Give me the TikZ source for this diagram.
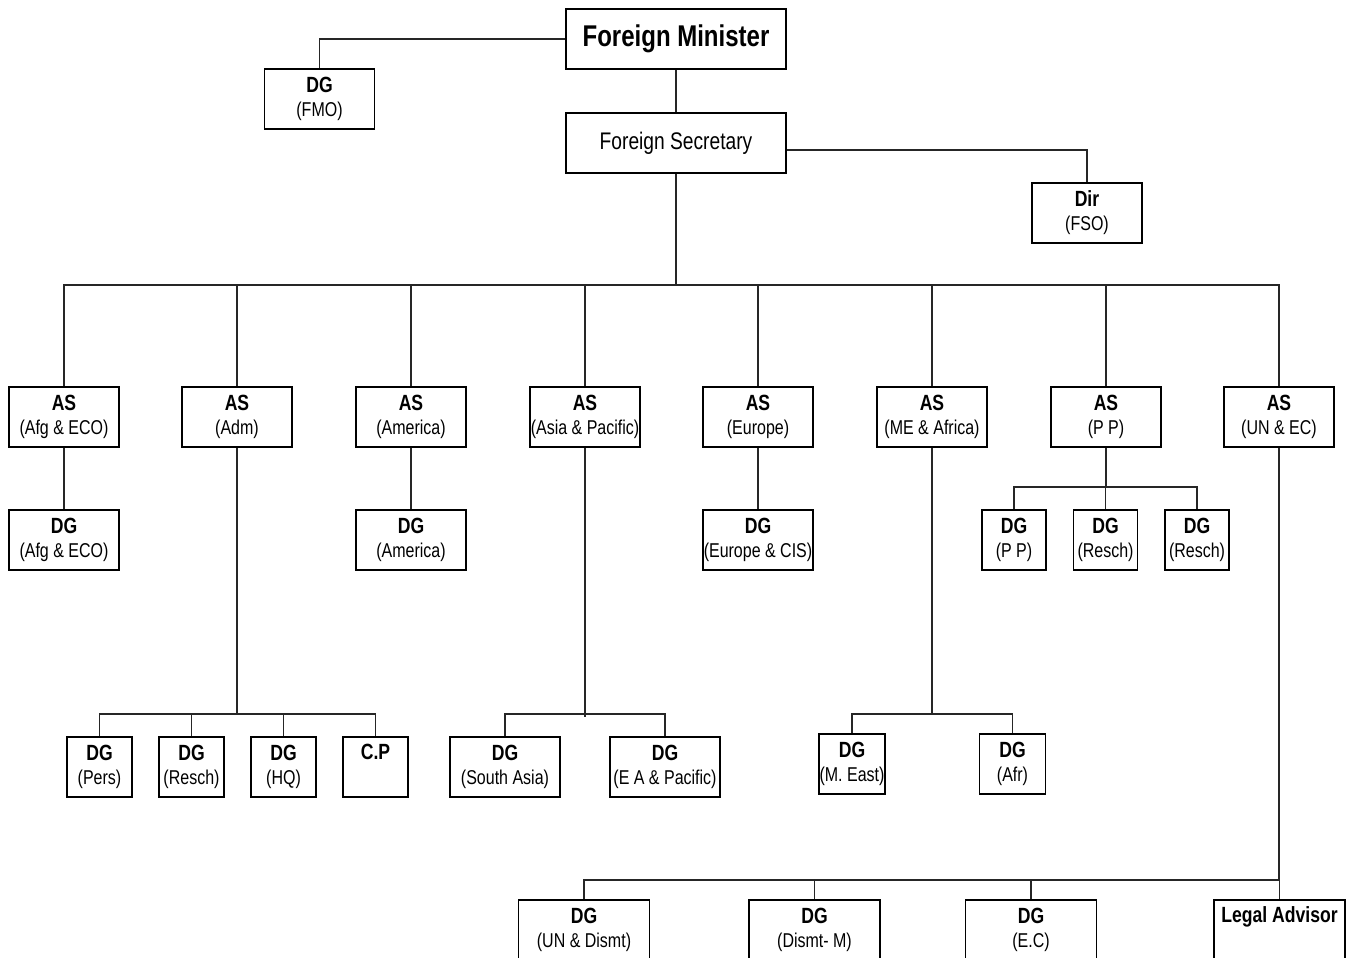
\documentclass[tikz,border=0pt]{standalone}
\usepackage{fontspec}
\setmainfont{Liberation Sans}[FakeStretch=0.8]
\usetikzlibrary{positioning}

\newcommand{\post}[2]{{\fontsize{22}{24}\selectfont\bfseries #1}\\#2}

\begin{document}
\begin{tikzpicture}[x=1pt, y=-1pt
%% Box styles
		, unit/.style={rectangle
							    , draw=black, line width=1.2pt
							    , fill=white
							    , minimum width=110pt
							    , minimum height=60pt
							    , inner sep=0pt
							    , align=center
							    , font=\fontsize{20}{24}\selectfont}
		, head/.style={unit
							    , minimum width=220pt}
		, slim/.style={unit
							    , minimum width=65pt}
		, wide/.style={unit
							    , minimum width=131pt}
%% Connector style
		, link/.style={line width=1.2pt, draw=black!85}
	]
	\useasboundingbox (0,0) rectangle (1349,958);

%% Top of the ministry
	\node [head, font=\fontsize{30}{32}\selectfont\bfseries] (fm) at (676,39) {Foreign Minister};
	\node [unit] (fmo) at (319.5,99) {\post{DG}{(FMO)}};
	\node [head, font=\fontsize{24}{28}\selectfont] (fs) at (676,143) {Foreign Secretary};
	\node [unit] (fso) at (1087,213) {\post{Dir}{(FSO)}};

%% Additional secretaries
	\node [unit] (as1) at (64,417)   {\post{AS}{(Afg \& ECO)}};
	\node [unit] (as2) at (237,417)  {\post{AS}{(Adm)}};
	\node [unit] (as3) at (411,417)  {\post{AS}{(America)}};
	\node [unit] (as4) at (585,417)  {\post{AS}{(Asia \& Pacific)}};
	\node [unit] (as5) at (758,417)  {\post{AS}{(Europe)}};
	\node [unit] (as6) at (932,417)  {\post{AS}{(ME \& Africa)}};
	\node [unit] (as7) at (1106,417) {\post{AS}{(P P)}};
	\node [unit] (as8) at (1279,417) {\post{AS}{(UN \& EC)}};

%% Director generals, first row
	\node [unit] (as1c1) at (64,540)  {\post{DG}{(Afg \& ECO)}};
	\node [unit] (as3c1) at (411,540) {\post{DG}{(America)}};
	\node [unit] (as5c1) at (758,540) {\post{DG}{(Europe \& CIS)}};
	\node [slim, minimum width=64pt] (as7c1) at (1014,540)   {\post{DG}{(P P)}};
	\node [slim, minimum width=64pt] (as7c2) at (1105.5,540) {\post{DG}{(Resch)}};
	\node [slim, minimum width=64pt] (as7c3) at (1197,540)   {\post{DG}{(Resch)}};

%% Director generals, second row
	\node [slim] (as2c1) at (99.5,767)  {\post{DG}{(Pers)}};
	\node [slim] (as2c2) at (191.5,767) {\post{DG}{(Resch)}};
	\node [slim] (as2c3) at (283.5,767) {\post{DG}{(HQ)}};
	\node [slim] (as2c4) at (375.5,767) {\post{C.P}{\strut}};
	\node [unit] (as4c1) at (505,767)   {\post{DG}{(South Asia)}};
	\node [unit] (as4c2) at (665,767)   {\post{DG}{(E A \& Pacific)}};
	\node [slim, minimum width=66pt] (as6c1) at (852,764)    {\post{DG}{(M. East)}};
	\node [slim, minimum width=66pt] (as6c2) at (1012.5,764) {\post{DG}{(Afr)}};

%% Director generals, third row
	\node [wide] (as8c1) at (584,930)    {\post{DG}{(UN \& Dismt)}};
	\node [wide] (as8c2) at (814.5,930)  {\post{DG}{(Dismt- M)}};
	\node [wide] (as8c3) at (1031,930)   {\post{DG}{(E.C)}};
	\node [wide] (as8c4) at (1279.5,930) {\post{Legal Advisor}{\strut}};

%% Junction points
	\coordinate (bus)     at (676,285);
	\coordinate (admbus)  at (237,714);
	\coordinate (asiabus) at (585,714);
	\coordinate (mebus)   at (932,714);
	\coordinate (ppbus)   at (1106,487);
	\coordinate (unbus)   at (1279,880);

%% Draw edges
	\begin{scope}[link]
		\draw (fm.west) -| (fmo.north);
		\draw (fm) -- (fs);
		\draw ([yshift=-7pt]fs.east) -| (fso.north);
		\draw (fs) -- (bus);
		\foreach \n in {as1,as2,as3,as4,as5,as6,as7,as8}
			\draw (bus) -| (\n.north);
		\draw (as1) -- (as1c1);
		\draw (as3) -- (as3c1);
		\draw (as5) -- (as5c1);
		\draw (as7) -- (ppbus);
		\foreach \n in {as7c1,as7c2,as7c3}
			\draw (ppbus) -| (\n.north);
		\draw (as2) -- (admbus);
		\foreach \n in {as2c1,as2c2,as2c3,as2c4}
			\draw (admbus) -| (\n.north);
		\draw (as4) -- ([yshift=-3pt]asiabus);
		\foreach \n in {as4c1,as4c2}
			\draw (asiabus) -| (\n.north);
		\draw (as6) -- (mebus);
		\foreach \n in {as6c1,as6c2}
			\draw (mebus) -| (\n.north);
		\draw (as8) -- (unbus);
		\foreach \n in {as8c1,as8c2,as8c3,as8c4}
			\draw (unbus) -| (\n.north);
	\end{scope}
\end{tikzpicture}
\end{document}
